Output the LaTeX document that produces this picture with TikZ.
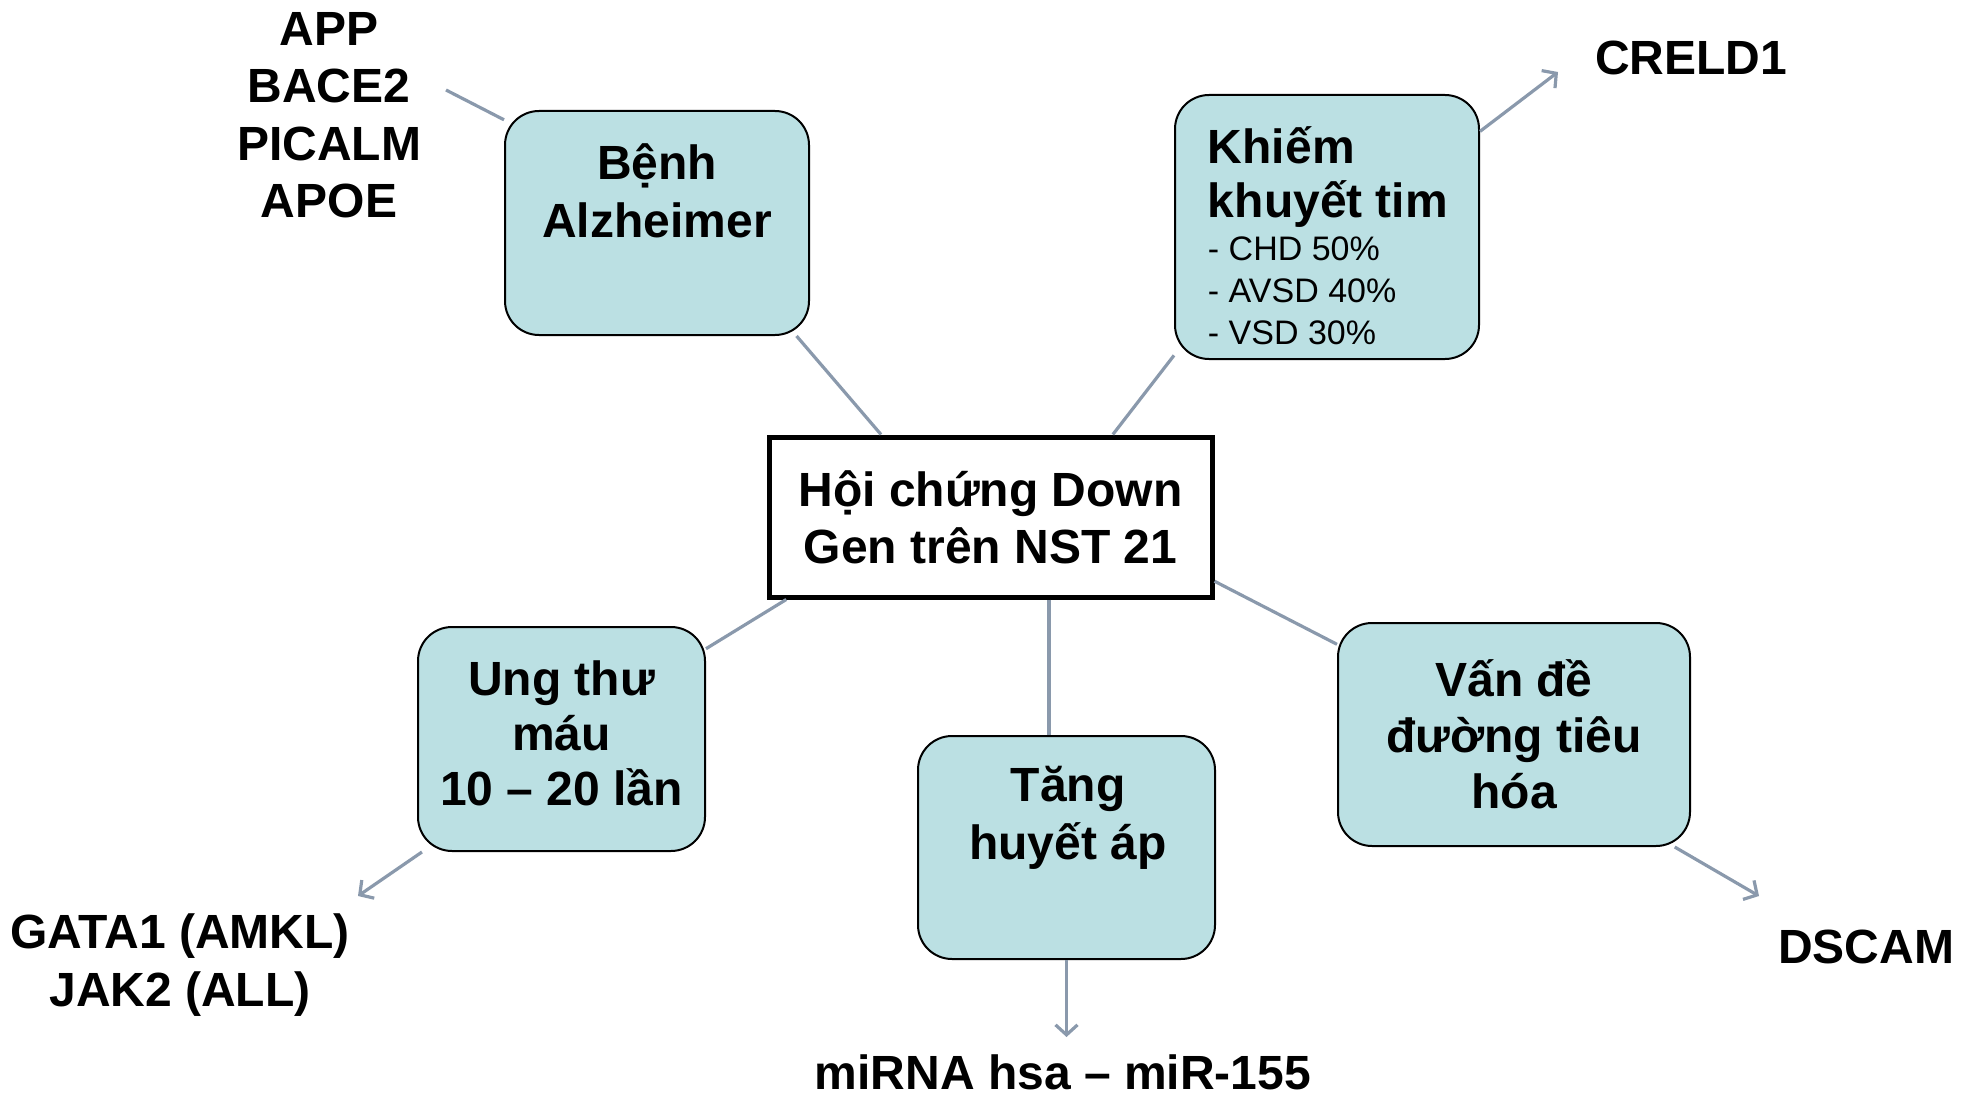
\documentclass[tikz,border=0pt]{standalone}
\usepackage{fontspec}
\setmainfont{Liberation Sans}
\usepackage{tikz}
\usetikzlibrary{positioning,arrows.meta,calc}
\definecolor{boxcyan}{HTML}{BBE0E3}
\definecolor{linkgrey}{HTML}{8A99AC}
\tikzset{
  issue/.style={draw, rounded corners=17pt, fill=boxcyan, line width=1pt, align=center, inner sep=0pt, font=\fontsize{24}{28}\selectfont\bfseries},
  hubbox/.style={draw, line width=2.5pt, fill=white, align=center, font=\fontsize{24}{28.5}\selectfont\bfseries},
  gene/.style={align=center, inner sep=0pt, font=\fontsize{24}{28.75}\selectfont\bfseries},
  link/.style={draw=linkgrey, line width=1.6pt},
  lead/.style={link, -{Straight Barb[length=5pt,width=11pt]}},
}

\begin{document}
\begin{tikzpicture}[x=0.5pt, y=-0.5pt]
    \useasboundingbox (0,0) rectangle (1970,1097);
    \node[hubbox, minimum width=221.5pt, minimum height=80pt] (hub) at (990.5,517) {Hội chứng Down\\Gen trên NST 21};
    \node[issue, minimum width=152pt, minimum height=112pt] (alz) at (657,223) {};
    \node[gene] (alzt) at (657,191) {Bệnh\\Alzheimer};
    \node[issue, minimum width=152pt, minimum height=132pt] (heart) at (1327,227) {};
    \node[gene, align=left, font=\fontsize{24}{27}\selectfont\bfseries] (heartt) at (1328,236)
      {Khiếm\\khuyết tim\\[-5.5pt]{\fontsize{17}{21}\selectfont\mdseries - CHD 50\%}\\[-6pt]{\fontsize{17}{21}\selectfont\mdseries - AVSD 40\%}\\[-6pt]{\fontsize{17}{21}\selectfont\mdseries - VSD 30\%}};
    \node[issue, minimum width=143.5pt, minimum height=112pt] (blood) at (561.5,739) {};
    \node[gene, font=\fontsize{24}{27.5}\selectfont\bfseries] (bloodt) at (561.5,733) {Ung thư\\máu\\10 – 20 lần};
    \node[issue, minimum width=148.5pt, minimum height=111.5pt] (bp) at (1066.5,847.5) {};
    \node[gene] (bpt) at (1068,818) {Tăng\\huyết áp};
    \node[issue, minimum width=176pt, minimum height=111.5pt] (gut) at (1514,734.5) {Vấn đề\\đường tiêu\\hóa};

    \node[gene] (genes) at (329,115) {APP\\BACE2\\PICALM\\APOE};
    \node[gene] (creld) at (1691,58) {CRELD1};
    \node[gene] (gata) at (180,965) {GATA1 (AMKL)\\JAK2 (ALL)};
    \node[gene, anchor=base] (mirna) at (1063,1089) {miRNA hsa – miR-155};
    \node[gene] (dscam) at (1866,947) {DSCAM};

    \coordinate (append) at (446,90);
    \coordinate (crelend) at (1558,72);
    \coordinate (gataend) at (358,896);
    \coordinate (mirend) at (1066.5,1037);
    \coordinate (dscamend) at (1759,896);

    \draw[link] (hub.143.6) -- (alz.-39.7);
    \draw[link] (alz.146.9) -- (append);
    \draw[link] (hub.34.7) -- (heart.-140.1);
    \draw[lead] (heart.32.1) -- (crelend);
    \draw[link] (hub.-158.7) -- (blood.32);
    \draw[lead] (blood.-141.4) -- (gataend);
    \draw[link] ([xshift=-8.75pt]bp.north |- hub.south) -- ([xshift=-8.75pt]bp.north);
    \draw[lead] (bp.south) -- (mirend);
    \draw[link] (hub.-16.6) -- (gut.153);
    \draw[lead] (gut.-35.4) -- (dscamend);
  \end{tikzpicture}
\end{document}
